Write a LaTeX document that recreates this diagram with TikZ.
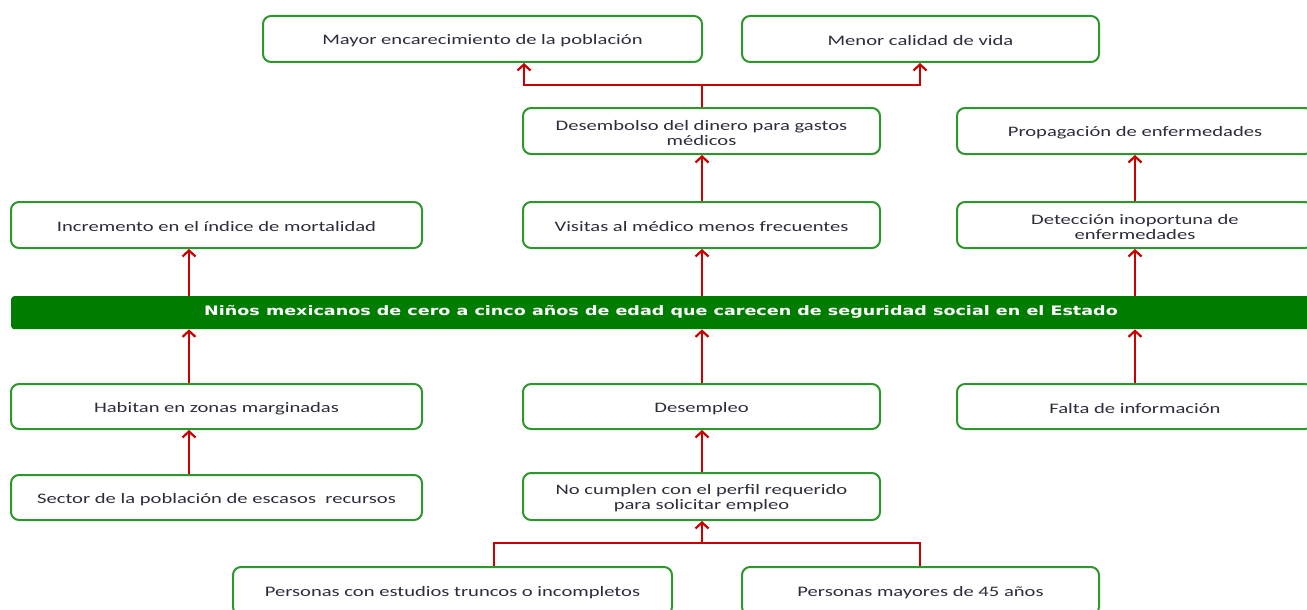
\documentclass[tikz,border=0pt]{standalone}
\usepackage{fontspec}
\setmainfont{Carlito}[FakeStretch=1.42]
\newfontfamily\titlefont{DejaVu Sans}[FakeStretch=1.35]
\usetikzlibrary{arrows.meta}
\definecolor{boxgreen}{RGB}{45,150,45}
\definecolor{bannergreen}{RGB}{0,125,0}
\definecolor{arrred}{RGB}{200,0,0}
\definecolor{txt}{RGB}{45,45,60}
\newcommand{\bx}[6]{\node[box, minimum width={(#4-#2)*1pt}, minimum height={(#5-#3)*1pt}] (#1) at ({(#2+#4)/2},{(#3+#5)/2}) {};
  \node[boxtext] (#1-t) at ({(#2+#4)/2},{(#3+#5)/2+2}) {#6};}
\begin{document}
\begin{tikzpicture}[x=1pt,y=-1pt,
  box/.style={draw=boxgreen, line width=2pt, rounded corners=8pt, fill=white, inner sep=0pt},
  boxtext/.style={text=txt, font=\fontsize{14.5}{15}\selectfont, align=center, inner sep=0pt},
  banner/.style={fill=bannergreen, rounded corners=3pt, text=white, inner sep=0pt,
    font=\titlefont\bfseries\fontsize{13}{15}\selectfont},
  redline/.style={draw=arrred, line width=2pt},
  arr/.style={draw=arrred, line width=2.5pt, -{Straight Barb[length=6pt,width=13pt,line width=2.2pt]}}]
\useasboundingbox (0,0) rectangle (1307,610);
\clip (0,0) rectangle (1307,610);
% columns
\coordinate (c1) at (189,0);
\coordinate (c2) at (702,0);
\coordinate (c3) at (1135,0);
\coordinate (cA) at (524,0);
\coordinate (cB) at (920,0);
\coordinate (cL) at (494,0);
\coordinate (j1) at (702,85);
\coordinate (j2) at (702,543);
% boxes
\bx{mayor}{263}{16}{702}{62}{Mayor encarecimiento de la población}
\bx{menor}{742}{16}{1099}{62}{Menor calidad de vida}
\bx{desem}{523}{108}{880}{154}{Desembolso del dinero para gastos\\ médicos}
\bx{propa}{957}{108}{1313}{154}{Propagación de enfermedades}
\bx{incre}{11}{202}{422}{248}{Incremento en el índice de mortalidad}
\bx{visit}{523}{202}{880}{248}{Visitas al médico menos frecuentes}
\bx{detec}{957}{202}{1313}{248}{Detección inoportuna de\\ enfermedades}
\node[banner, minimum width=1330pt, minimum height=33pt, anchor=north west] (ban) at (11,296) {};
\node[banner, anchor=center] (bantext) at (661,312) {Niños mexicanos de cero a cinco años de edad que carecen de seguridad social en el Estado};
\bx{habit}{11}{384}{422}{429}{Habitan en zonas marginadas}
\bx{desemp}{523}{384}{880}{429}{Desempleo}
\bx{falta}{957}{384}{1313}{429}{Falta de información}
\bx{sector}{11}{475}{422}{520}{Sector de la población de escasos\ \ recursos}
\bx{nocum}{523}{473}{880}{520}{No cumplen con el perfil requerido\\ para solicitar empleo}
\bx{perest}{233}{567}{672}{615}{Personas con estudios truncos o incompletos}
\bx{permay}{742}{567}{1099}{615}{Personas mayores de 45 años}
% connectors
\draw[redline] (desem.north -| c2) -- (j1);
\draw[arr] (j1) -| (mayor.south -| cA);
\draw[arr] (j1) -| (menor.south -| cB);
\draw[arr] (visit.north -| c2) -- (desem.south -| c2);
\draw[arr] (ban.north -| c1) -- (incre.south -| c1);
\draw[arr] (ban.north -| c2) -- (visit.south -| c2);
\draw[arr] (ban.north -| c3) -- (detec.south -| c3);
\draw[arr] (detec.north -| c3) -- (propa.south -| c3);
\draw[arr] (habit.north -| c1) -- (ban.south -| c1);
\draw[arr] (desemp.north -| c2) -- (ban.south -| c2);
\draw[arr] (falta.north -| c3) -- (ban.south -| c3);
\draw[arr] (sector.north -| c1) -- (habit.south -| c1);
\draw[arr] (nocum.north -| c2) -- (desemp.south -| c2);
\draw[redline] (perest.north -| cL) |- (j2) -| (permay.north -| cB);
\draw[arr] (j2) -- (nocum.south -| c2);
\end{tikzpicture}
\end{document}
